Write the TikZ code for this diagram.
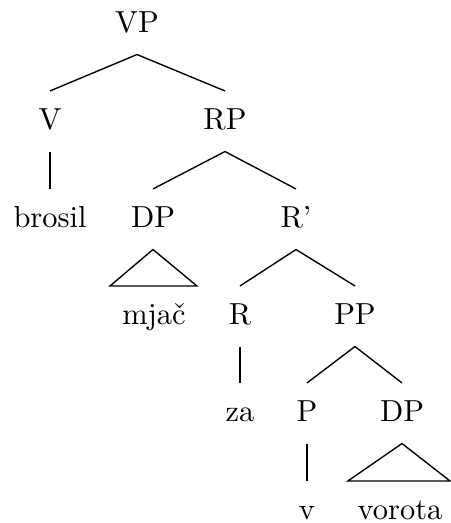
\documentclass[tikz,border=0pt]{standalone}
\usepackage{tikz}
\usetikzlibrary{positioning}

\begin{document}
\begin{tikzpicture}[
      x=0.3285pt, y=-0.3285pt,
      lbl/.style={
        anchor=base, inner sep=0pt,
        text height=12.3pt, text depth=7.2pt
      },
      edge/.style={black, line width=0.45pt}
    ]
      \useasboundingbox (0,0) rectangle (450,523);

      % Categories, row by row
      \node[lbl] (vp) at (137,32) {VP};

      \node[lbl] (v)  at (50,129)  {V};
      \node[lbl] (rp) at (225,129) {RP};

      \node[lbl] (brosil) at (50,227)  {brosil};
      \node[lbl] (dpa)    at (153,227) {DP};
      \node[lbl] (rbar)   at (296,227) {R'};

      \node[lbl] (mjac) at (154,324) {mja\v{c}};
      \node[lbl] (r)    at (240,324) {R};
      \node[lbl] (pp)   at (355,324) {PP};

      \node[lbl] (za)  at (240,421) {za};
      \node[lbl] (p)   at (307,421) {P};
      \node[lbl] (dpb) at (402,421) {DP};

      \node[lbl] (vv)     at (307,519) {v};
      \node[lbl] (vorota) at (400,519) {vorota};

      % Branches
      \draw[edge] (v.north) -- (vp.south) -- (rp.north);
      \draw[edge] (v.south) -- (brosil.north);
      \draw[edge] (dpa.north) -- (rp.south) -- (rbar.north);
      \draw[edge] (r.north) -- (rbar.south) -- (pp.north);
      \draw[edge] (r.south) -- (za.north);
      \draw[edge] (p.north) -- (pp.south) -- (dpb.north);
      \draw[edge] (p.south) -- (vv.north);

      % Triangles over unanalysed phrases
      \draw[edge] (dpa.south) -- ([xshift=-14.45pt]mjac.north)
                  -- ([xshift=14.1pt]mjac.north) -- cycle;
      \draw[edge] (dpb.south) -- ([xshift=-17.1pt]vorota.north)
                  -- ([xshift=16.4pt]vorota.north) -- cycle;
    \end{tikzpicture}
\end{document}
